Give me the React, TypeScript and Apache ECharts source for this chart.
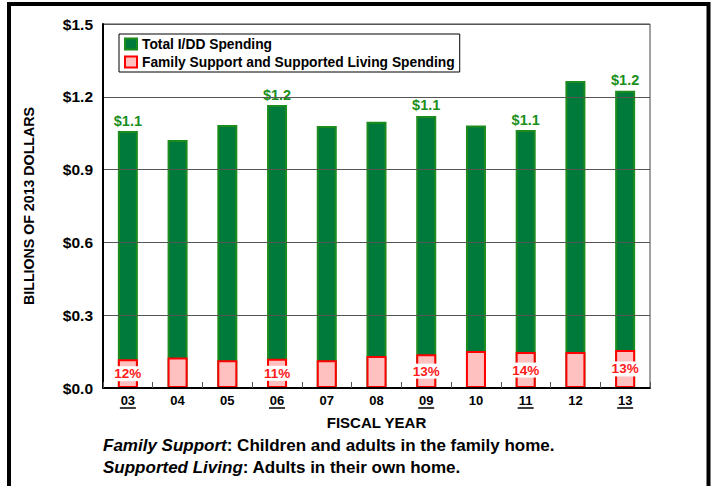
import React, { useEffect, useRef } from "react";
import * as echarts from "echarts";

const categories = ["03", "04", "05", "06", "07", "08", "09", "10", "11", "12", "13"];
const totalSpending = [1.059, 1.022, 1.084, 1.166, 1.08, 1.097, 1.121, 1.082, 1.063, 1.265, 1.225];
const familySupport = [0.118, 0.126, 0.114, 0.121, 0.114, 0.132, 0.139, 0.152, 0.148, 0.148, 0.157];
const totalLabels = ["$1.1", "", "", "$1.2", "", "", "$1.1", "", "$1.1", "", "$1.2"];
const shareLabels = ["12%", "", "", "11%", "", "", "13%", "", "14%", "", "13%"];
const underlined = [true, false, false, true, false, false, true, false, true, false, true];
const seriesNames = ["Total I/DD Spending", "Family Support and Supported Living Spending"];

const FONT = "'Liberation Sans', Arial, sans-serif";

export default function App() {
  const ref = useRef<HTMLDivElement>(null);
  useEffect(() => {
    const chart = echarts.init(ref.current!, null, { renderer: "svg" });
    chart.setOption({
      animation: false,
      textStyle: { fontFamily: FONT },
      grid: {
        left: 103,
        top: 24,
        right: 65,
        bottom: 98,
        show: true,
        borderColor: "#444",
        borderWidth: 1,
        backgroundColor: "transparent",
      },
      legend: {
        data: seriesNames,
        orient: "vertical",
        left: 119,
        top: 34,
        padding: [3, 5, 3, 5],
        icon: "rect",
        itemWidth: 12,
        itemHeight: 11,
        itemGap: 4,
        backgroundColor: "#fff",
        borderColor: "#000",
        borderWidth: 1,
        selectedMode: false,
        textStyle: { fontFamily: FONT, fontWeight: "bold", fontSize: 13.8, color: "#000" },
      },
      xAxis: {
        type: "category",
        data: categories,
        name: "FISCAL YEAR",
        nameLocation: "middle",
        nameGap: 27,
        nameTextStyle: { fontFamily: FONT, fontWeight: "bold", fontSize: 15, color: "#000" },
        axisLine: { lineStyle: { color: "#000", width: 2 } },
        axisTick: { show: true, inside: true, length: 6, lineStyle: { color: "#555", width: 1 } },
        axisLabel: { fontFamily: FONT, fontWeight: "bold", fontSize: 13, color: "#000", margin: 6 },
        z: 5,
      },
      yAxis: {
        type: "value",
        min: 0,
        max: 1.5,
        interval: 0.3,
        name: "BILLIONS OF 2013 DOLLARS",
        nameLocation: "middle",
        nameGap: 67,
        nameTextStyle: { fontFamily: FONT, fontWeight: "bold", fontSize: 14.2, color: "#000" },
        axisLine: { show: true, lineStyle: { color: "#000", width: 2 } },
        axisTick: { show: false },
        splitLine: { lineStyle: { color: "#555", width: 1 } },
        axisLabel: {
          fontFamily: FONT,
          fontWeight: "bold",
          fontSize: 15.5,
          color: "#000",
          margin: 10,
          formatter: (v: number) => "$" + v.toFixed(1),
        },
        z: 5,
      },
      series: [
        {
          name: seriesNames[0],
          type: "bar",
          barWidth: 20,
          barGap: "-100%",
          data: totalSpending.map((v, i) => ({
            value: v,
            label: {
              show: totalLabels[i] !== "",
              formatter: totalLabels[i],
            },
          })),
          itemStyle: { color: "#007a3a", borderColor: "#1c8c1c", borderWidth: 2 },
          label: {
            position: "top",
            distance: 3,
            fontFamily: FONT,
            fontWeight: "bold",
            fontSize: 14.5,
            color: "#1a8f1a",
          },
        },
        {
          name: seriesNames[1],
          type: "bar",
          barWidth: 20,
          data: familySupport.map((v, i) => ({
            value: v,
            label: {
              show: shareLabels[i] !== "",
              formatter: shareLabels[i],
            },
          })),
          itemStyle: { color: "#ffc0c0", borderColor: "#ff0000", borderWidth: 2 },
          label: {
            position: "inside",
            fontFamily: FONT,
            fontWeight: "bold",
            fontSize: 13.5,
            color: "#ff1a1a",
            backgroundColor: "#fff",
            padding: [1, 1, 0, 1],
          },
        },
        {
          type: "custom",
          silent: true,
          clip: false,
          z: 10,
          data: categories.map((c, i) => [i, 0, underlined[i] ? 1 : 0]),
          renderItem: (params: any, api: any) => {
            if (!api.value(2)) return null;
            const p = api.coord([api.value(0), 0]);
            return {
              type: "line",
              shape: { x1: p[0] - 8, y1: p[1] + 20, x2: p[0] + 8, y2: p[1] + 20 },
              style: { stroke: "#000", lineWidth: 1.5 },
            };
          },
        },
      ],
      graphic: [
        {
          type: "rect",
          shape: { x: 9, y: 4, width: 699.5, height: 520 },
          style: { fill: "none", stroke: "#000", lineWidth: 4 },
          silent: true,
        },
        {
          type: "text",
          left: 103,
          top: 437,
          style: {
            text: "{i|Family Support}{b|: Children and adults in the family home.}\n{i|Supported Living}{b|: Adults in their own home.}",
            rich: {
              i: { fontFamily: FONT, fontWeight: "bold", fontStyle: "italic", fontSize: 17, fill: "#000", lineHeight: 22 },
              b: { fontFamily: FONT, fontWeight: "bold", fontSize: 17, fill: "#000", lineHeight: 22 },
            },
          },
        },
      ],
    });
    return () => chart.dispose();
  }, []);
  return (
    <div
      ref={ref}
      style={{ position: "fixed", left: 0, top: 0, width: 715, height: 486, background: "#fff" }}
    />
  );
}
